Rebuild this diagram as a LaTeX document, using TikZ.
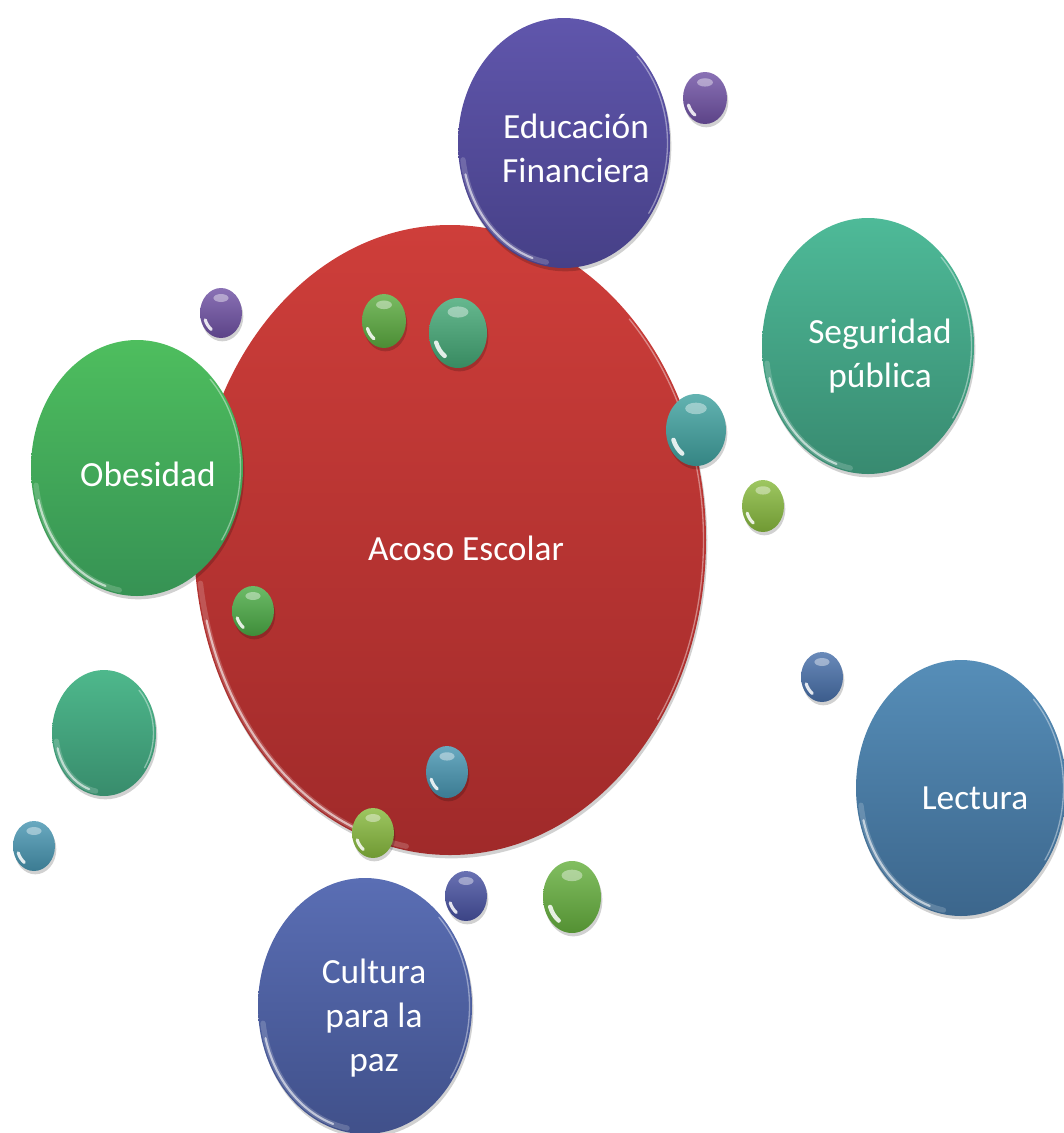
\documentclass[tikz,border=0pt]{standalone}
\usepackage{fontspec}
\setmainfont{Carlito}
\usetikzlibrary{shapes.geometric,shadows,calc}
\definecolor{redT}{RGB}{206,62,58}\definecolor{redB}{RGB}{160,42,42}
\definecolor{eduT}{RGB}{96,86,172}\definecolor{eduB}{RGB}{70,64,135}
\definecolor{segT}{RGB}{78,186,152}\definecolor{segB}{RGB}{56,138,112}
\definecolor{obeT}{RGB}{78,190,94}\definecolor{obeB}{RGB}{54,146,84}
\definecolor{lecT}{RGB}{86,142,184}\definecolor{lecB}{RGB}{60,102,140}
\definecolor{culT}{RGB}{90,110,180}\definecolor{culB}{RGB}{64,80,138}
\definecolor{tgT}{RGB}{78,184,140}\definecolor{tgB}{RGB}{56,140,108}
\definecolor{cPur}{RGB}{112,82,165}
\definecolor{cGrn}{RGB}{92,172,64}
\definecolor{cTgr}{RGB}{68,168,118}
\definecolor{cTea}{RGB}{64,162,160}
\definecolor{cLim}{RGB}{136,186,62}
\definecolor{cGr2}{RGB}{76,172,70}
\definecolor{cBlu}{RGB}{72,112,170}
\definecolor{cTe2}{RGB}{72,150,178}
\definecolor{cBl2}{RGB}{72,82,162}
\definecolor{cGr3}{RGB}{102,176,62}
\tikzset{
  bubble/.style={ellipse, inner sep=0pt, draw=none,
    drop shadow={shadow xshift=1pt, shadow yshift=-2.5pt, opacity=.18, fill=black}},
  lbl/.style={text=white, font=\fontsize{26.5}{33}\selectfont, align=center, inner sep=0pt},
  rim/.style={white, line cap=round},
}
\newcommand\bigbub[7]{%
  \node[bubble, top color=#6, bottom color=#7,
        minimum width={2*#4*0.75pt}, minimum height={2*#5*0.75pt}] (#1) at (#2,#3) {};
  \pgfmathsetmacro\bra{#4-4}\pgfmathsetmacro\brb{#5-4}%
  \draw[rim, line width=4pt, opacity=.18] (#2,#3) ++(172:{\bra} and {\brb})
     arc[start angle=172, end angle=100, x radius=\bra, y radius=\brb];
  \draw[rim, line width=1.6pt, opacity=.6] (#2,#3) ++(165:{\bra} and {\brb})
     arc[start angle=165, end angle=108, x radius=\bra, y radius=\brb];
  \pgfmathsetmacro\bra{#4-2.5}\pgfmathsetmacro\brb{#5-2.5}%
  \draw[rim, line width=1pt, opacity=.4] (#2,#3) ++(35:{\bra} and {\brb})
     arc[start angle=35, end angle=-45, x radius=\bra, y radius=\brb];
}
\newcommand\smbub[6]{%
  \node[bubble, top color=#6!82!white, bottom color=#6!82!black,
        minimum width={2*#4*0.75pt}, minimum height={2*#5*0.75pt}] (#1) at (#2,#3) {};
  \fill[white, opacity=.4] (#2,{#3-0.6*#5}) ellipse[x radius={0.36*#4}, y radius={0.16*#5}];
  \pgfmathsetmacro\bra{0.8*#4}\pgfmathsetmacro\brb{0.8*#5}%
  \draw[white, opacity=.85, line cap=round, line width={0.15*#4*0.75pt}] (#2,#3) ++(160:{\bra} and {\brb})
     arc[start angle=160, end angle=125, x radius=\bra, y radius=\brb];
}
\begin{document}
\begin{tikzpicture}[x=0.75pt, y=-0.75pt]
\useasboundingbox (0,0) rectangle (1064,1133);
% main bubble
\bigbub{acoso}{450}{540}{256}{315}{redT}{redB}
\bigbub{edu}{564}{143}{106}{125}{eduT}{eduB}
\bigbub{obe}{137}{468}{106}{128}{obeT}{obeB}
\bigbub{seg}{868}{346}{106}{128}{segT}{segB}
\bigbub{lec}{961}{788}{105}{128}{lecT}{lecB}
\bigbub{cul}{365}{1006}{107}{128}{culT}{culB}
\bigbub{tg}{104}{733}{52}{63}{tgT}{tgB}
% small bubbles
\smbub{sp1}{705}{98}{22}{26}{cPur}
\smbub{sp2}{221}{313}{21}{25}{cPur}
\smbub{sg1}{384}{321}{22}{27}{cGrn}
\smbub{sg2}{458}{333}{29}{35}{cTgr}
\smbub{st1}{696}{430}{30}{36}{cTea}
\smbub{sl1}{763}{506}{21}{26}{cLim}
\smbub{sg3}{253}{611}{21}{25}{cGr2}
\smbub{sb1}{822}{677}{21}{25}{cBlu}
\smbub{st2}{447}{772}{21}{26}{cTe2}
\smbub{sl2}{373}{833}{21}{25}{cLim}
\smbub{st3}{34}{846}{21}{25}{cTe2}
\smbub{sb2}{466}{896}{21}{25}{cBl2}
\smbub{sg4}{572}{897}{29}{36}{cGr3}
% labels
\node[lbl] (tacoso) at (466,548) {Acoso Escolar};
\node[lbl] (tedu) at (576,148) {Educación\\Financiera};
\node[lbl] (tobe) at (148,474) {Obesidad};
\node[lbl] (tseg) at (880,356) {Seguridad\\pública};
\node[lbl] (tlec) at (975,798) {Lectura};
\node[lbl] (tcul) at (374,1018) {Cultura\\para la\\paz};
\end{tikzpicture}
\end{document}
